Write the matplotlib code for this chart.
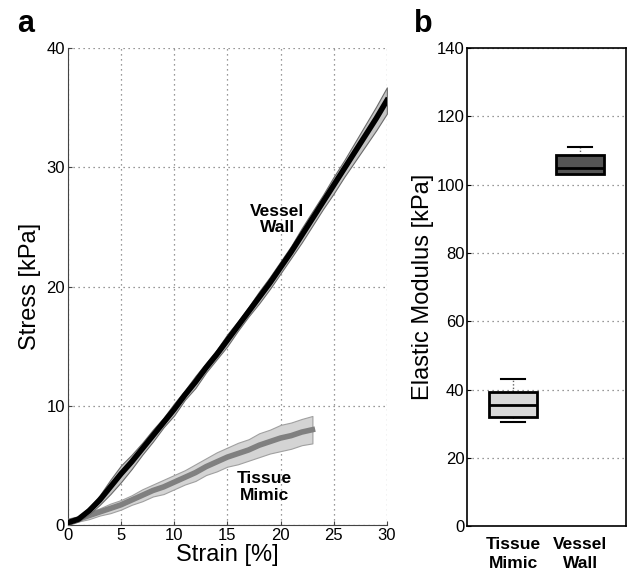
"""Stress-strain curves and elastic modulus box plots for vessel wall vs tissue mimic"""

import matplotlib

matplotlib.use("Agg")
from matplotlib import pyplot as plt
import numpy as np

plt.rcParams["font.family"] = ["Liberation Sans", "DejaVu Sans"]

# panel a: mean stress [kPa] and band half-width at integer strain [%]
strain_vessel = np.arange(0, 31)
stress_vessel = [0.2, 0.5, 1.2, 2.1, 3.2, 4.3, 5.3, 6.4, 7.5, 8.6, 9.7,
                 10.9, 12.0, 13.2, 14.3, 15.5, 16.7, 17.9, 19.1, 20.3, 21.6,
                 22.9, 24.3, 25.7, 27.1, 28.5, 29.9, 31.3, 32.7, 34.1, 35.6]
sd_vessel = [0.2, 0.2, 0.3, 0.4, 0.6, 0.7, 0.6, 0.5, 0.5, 0.4, 0.5,
             0.4, 0.5, 0.4, 0.4, 0.5, 0.4, 0.4, 0.5, 0.5, 0.5,
             0.5, 0.6, 0.6, 0.6, 0.7, 0.7, 0.8, 0.9, 1.0, 1.1]

strain_mimic = np.arange(0, 24)
stress_mimic = [0.3, 0.5, 0.8, 1.1, 1.4, 1.7, 2.1, 2.5, 2.9, 3.2, 3.6, 4.0,
                4.4, 4.9, 5.3, 5.7, 6.0, 6.3, 6.7, 7.0, 7.3, 7.5, 7.8, 8.0]
sd_mimic = [0.2, 0.2, 0.3, 0.3, 0.4, 0.4, 0.4, 0.5, 0.5, 0.6, 0.6, 0.6,
            0.7, 0.7, 0.8, 0.8, 0.9, 0.9, 1.0, 1.0, 1.1, 1.1, 1.1, 1.15]

# panel b: box plot statistics [kPa]
groups = ["Tissue\nMimic", "Vessel\nWall"]
q1 = [31.9, 103.2]
median = [35.4, 105.0]
q3 = [39.2, 108.8]
whisker_low = [30.4, 103.2]
whisker_high = [43.0, 111.1]
box_colors = ["#d9d9d9", "#555555"]

fig = plt.figure(figsize=(6.28, 5.72), dpi=100)
ax_a = fig.add_axes([0.108, 0.082, 0.508, 0.834])
ax_b = fig.add_axes([0.744, 0.080, 0.253, 0.836])

GRID = dict(color="#777777", linestyle=(0, (1, 3)), linewidth=0.9)

# --- panel a ---
sv = np.array(stress_vessel)
dv = np.array(sd_vessel)
sm = np.array(stress_mimic)
dm = np.array(sd_mimic)

ax_a.fill_between(strain_mimic, sm - dm, sm + dm, facecolor="#d4d4d4",
                  edgecolor="#a0a0a0", linewidth=0.8, zorder=2)
ax_a.plot(strain_mimic, sm, color="#808080", linewidth=4, zorder=3)
ax_a.fill_between(strain_vessel, sv - dv, sv + dv, facecolor="#c4c4c4",
                  edgecolor="#6a6a6a", linewidth=0.8, zorder=4)
ax_a.plot(strain_vessel, sv, color="black", linewidth=4, zorder=5)

ax_a.text(19.7, 25.6, "Vessel\nWall", ha="center", va="center",
          fontsize=12.5, fontweight="bold", linespacing=1.1, zorder=6)
ax_a.text(18.5, 3.2, "Tissue\nMimic", ha="center", va="center",
          fontsize=12.5, fontweight="bold", linespacing=1.1, zorder=6)

ax_a.set_xlim(0, 30)
ax_a.set_ylim(0, 40)
ax_a.set_xticks(range(0, 31, 5))
ax_a.set_yticks(range(0, 41, 10))
ax_a.grid(True, **GRID)
ax_a.set_axisbelow(True)
for side in ["top", "right"]:
    ax_a.spines[side].set_visible(False)
for side in ["left", "bottom"]:
    ax_a.spines[side].set_color("#444444")
ax_a.tick_params(direction="in", length=3, labelsize=12, pad=2,
                 color="#444444")
ax_a.set_xlabel("Strain [%]", fontsize=17, labelpad=1)
ax_a.set_ylabel("Stress [kPa]", fontsize=17, labelpad=4)

# --- panel b ---
stats = []
for i in range(len(groups)):
    stats.append(dict(med=median[i], q1=q1[i], q3=q3[i],
                      whislo=whisker_low[i], whishi=whisker_high[i],
                      fliers=[]))
bp = ax_b.bxp(stats, positions=[1, 2], widths=0.72, capwidths=0.36,
              patch_artist=True, showfliers=False,
              boxprops=dict(edgecolor="black", linewidth=2),
              medianprops=dict(color="black", linewidth=2, zorder=4),
              whiskerprops=dict(color="#666666", linestyle=(0, (1, 1.5)),
                                linewidth=1),
              capprops=dict(color="black", linewidth=1.5))
for patch, col in zip(bp["boxes"], box_colors):
    patch.set_facecolor(col)
    patch.set_zorder(3)

ax_b.set_xlim(0.313, 2.687)
ax_b.set_ylim(0, 140)
ax_b.set_yticks(range(0, 141, 20))
ax_b.set_xticks([1, 2])
ax_b.set_xticklabels(groups, fontsize=12.5, fontweight="bold",
                     linespacing=1.3)
ax_b.yaxis.grid(True, **GRID)
ax_b.set_axisbelow(True)
for side in ax_b.spines.values():
    side.set_linewidth(1.2)
ax_b.tick_params(axis="y", direction="in", length=3, labelsize=12, pad=2)
ax_b.tick_params(axis="x", length=0, pad=8)
ax_b.set_ylabel("Elastic Modulus [kPa]", fontsize=17, labelpad=2)

fig.text(0.028, 0.985, "a", fontsize=22, fontweight="bold",
         ha="left", va="top")
fig.text(0.660, 0.985, "b", fontsize=22, fontweight="bold",
         ha="left", va="top")

fig.savefig("out.png", dpi=100)
